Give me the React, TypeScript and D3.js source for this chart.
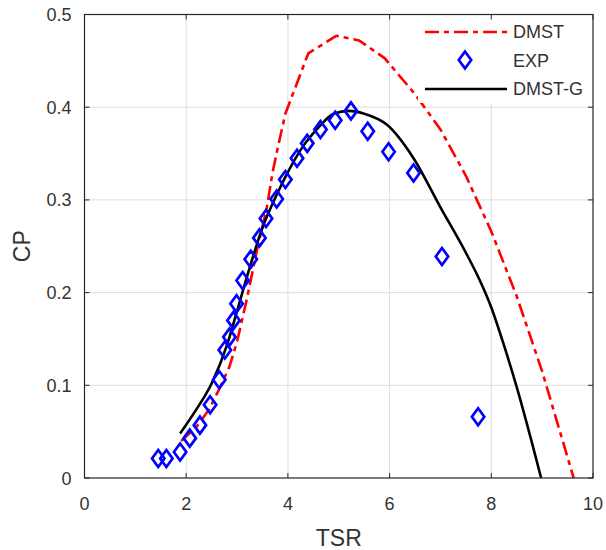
import React from "react";
import * as d3 from "d3";

// experimental points
const expTsr = [1.45, 1.61, 1.88, 2.07, 2.27, 2.47, 2.65, 2.76, 2.85, 2.93, 2.99, 3.11, 3.27, 3.44, 3.57, 3.78, 3.95, 4.18, 4.38, 4.64, 4.93, 5.24, 5.57, 5.98, 6.47, 7.03, 7.74];
const expCp = [0.021, 0.021, 0.028, 0.043, 0.057, 0.079, 0.106, 0.138, 0.152, 0.17, 0.188, 0.213, 0.236, 0.259, 0.28, 0.301, 0.322, 0.345, 0.361, 0.376, 0.386, 0.396, 0.374, 0.352, 0.329, 0.239, 0.066];

// DMST model
const dmstTsr = [1.9, 2.2, 2.45, 2.65, 2.85, 3.0, 3.2, 3.4, 3.58, 3.7, 3.8, 3.95, 4.4, 4.95, 5.4, 5.9, 6.5, 7.0, 7.5, 8.0, 8.5, 9.0, 9.62];
const dmstCp = [0.04, 0.055, 0.074, 0.096, 0.12, 0.147, 0.195, 0.248, 0.29, 0.33, 0.356, 0.393, 0.458, 0.477, 0.472, 0.453, 0.414, 0.376, 0.326, 0.266, 0.196, 0.115, 0];

// DMST-G model
const dmstgTsr = [1.88, 2.2, 2.5, 2.8, 3.0, 3.2, 3.5, 3.8, 4.0, 4.3, 4.6, 4.9, 5.2, 5.5, 5.95, 6.47, 7.0, 7.5, 7.75, 8.0, 8.25, 8.5, 8.98];
const dmstgCp = [0.048, 0.074, 0.102, 0.143, 0.18, 0.218, 0.27, 0.308, 0.33, 0.358, 0.378, 0.393, 0.396, 0.393, 0.381, 0.345, 0.292, 0.243, 0.216, 0.184, 0.143, 0.098, 0];

const xTicks = [0, 2, 4, 6, 8, 10];
const yTicks = [0, 0.1, 0.2, 0.3, 0.4, 0.5];

const width = 606;
const height = 550;
const margin = { top: 14.5, right: 13, bottom: 72, left: 84.5 };

const App = () => {
  const x = d3.scaleLinear().domain([0, 10]).range([margin.left, width - margin.right]);
  const y = d3.scaleLinear().domain([0, 0.5]).range([height - margin.bottom, margin.top]);

  const path = (xs: number[], ys: number[], curve: d3.CurveFactory = d3.curveLinear) =>
    d3
      .line<number>()
      .x((d) => x(d))
      .y((_, i) => y(ys[i]))
      .curve(curve)(xs) || "";

  const diamond = (cx: number, cy: number) =>
    `M${cx},${cy - 8.5}L${cx + 6.2},${cy}L${cx},${cy + 8.5}L${cx - 6.2},${cy}Z`;

  const x0 = x(0), x1 = x(10), y0 = y(0), y1 = y(0.5);
  const axisColor = "#262626";
  const font = "Liberation Sans, Arial, sans-serif";
  const dash = "14,5,5,5";

  return (
    <svg width={width} height={height} style={{ position: "absolute", left: 0, top: 0 }}>
      <rect x={0} y={0} width={width} height={height} fill="#fff" />
      {/* grid */}
      {xTicks.slice(1, -1).map((t) => (
        <line key={"gx" + t} x1={x(t)} x2={x(t)} y1={y0} y2={y1} stroke="#dedede" strokeWidth={1} />
      ))}
      {yTicks.slice(1, -1).map((t) => (
        <line key={"gy" + t} x1={x0} x2={x1} y1={y(t)} y2={y(t)} stroke="#dedede" strokeWidth={1} />
      ))}

      {/* series */}
      <path d={path(dmstTsr, dmstCp)} fill="none" stroke="#ff0000" strokeWidth={2.6} strokeDasharray={dash} />
      <path d={path(dmstgTsr, dmstgCp, d3.curveMonotoneX)} fill="none" stroke="#000" strokeWidth={2.6} />
      {expTsr.map((t, i) => (
        <path key={"e" + i} d={diamond(x(t), y(expCp[i]))} fill="none" stroke="#0000ff" strokeWidth={2.7} />
      ))}

      {/* legend */}
      <rect x={418} y={16} width={172} height={87} fill="#fff" />
      <line x1={425} x2={507} y1={32} y2={32} stroke="#ff0000" strokeWidth={2.6} strokeDasharray={dash} />
      <path d={diamond(465, 60)} fill="none" stroke="#0000ff" strokeWidth={2.7} />
      <line x1={425} x2={507} y1={89} y2={89} stroke="#000" strokeWidth={2.6} />
      {["DMST", "EXP", "DMST-G"].map((s, i) => (
        <text key={s} x={513} y={32 + i * 28.5 + 6} fontSize={18} fontFamily={font} fill="#333">
          {s}
        </text>
      ))}

      {/* axes box */}
      <rect x={x0} y={y1} width={x1 - x0} height={y0 - y1} fill="none" stroke={axisColor} strokeWidth={1.2} />
      {xTicks.map((t) => (
        <g key={"tx" + t}>
          <line x1={x(t)} x2={x(t)} y1={y0} y2={y0 - 5} stroke={axisColor} />
          <line x1={x(t)} x2={x(t)} y1={y1} y2={y1 + 5} stroke={axisColor} />
          <text x={x(t)} y={y0 + 32} textAnchor="middle" fontSize={18} fontFamily={font} fill="#333">
            {t}
          </text>
        </g>
      ))}
      {yTicks.map((t) => (
        <g key={"ty" + t}>
          <line x1={x0} x2={x0 + 5} y1={y(t)} y2={y(t)} stroke={axisColor} />
          <line x1={x1} x2={x1 - 5} y1={y(t)} y2={y(t)} stroke={axisColor} />
          <text x={x0 - 13} y={y(t) + 6.5} textAnchor="end" fontSize={18} fontFamily={font} fill="#333">
            {t === 0 ? "0" : t.toFixed(1)}
          </text>
        </g>
      ))}
      <text x={(x0 + x1) / 2} y={546} textAnchor="middle" fontSize={23} fontFamily={font} fill="#333">
        TSR
      </text>
      <text
        transform={`translate(30,${(y0 + y1) / 2}) rotate(-90)`}
        textAnchor="middle"
        fontSize={23}
        fontFamily={font}
        fill="#333"
      >
        CP
      </text>
    </svg>
  );
};

export default App;
